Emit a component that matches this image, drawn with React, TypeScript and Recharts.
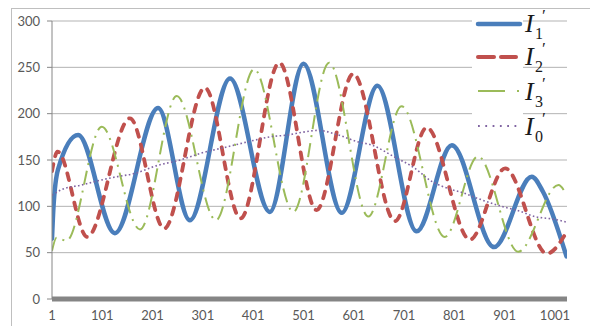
import React from 'react';
import { LineChart, Line, XAxis, YAxis, CartesianGrid } from 'recharts';

const xTicks = [1, 101, 201, 301, 401, 501, 601, 701, 801, 901, 1001];
const yTicks = [0, 50, 100, 150, 200, 250, 300];

const i1Index = [1, 4, 13, 53, 126, 212, 275, 355, 434, 501, 577, 648, 726, 796, 880, 955, 977, 1024];
const i1Value = [65, 100, 140, 177, 71, 206, 85, 238, 94, 254, 93, 230, 73, 166, 56, 132, 116, 46];

const i2Index = [1, 12, 71, 156, 224, 305, 376, 453, 527, 600, 683, 746, 832, 902, 985, 1024];
const i2Value = [138, 159, 67, 195, 76, 228, 87, 255, 96, 243, 84, 185, 64, 141, 49, 72];

const i3Index = [1, 10, 30, 100, 176, 249, 327, 403, 481, 552, 630, 696, 782, 848, 928, 1008, 1024];
const i3Value = [52, 66, 63, 186, 75, 219, 85, 248, 94, 255, 89, 208, 67, 154, 51, 123, 112];

const i0Index = [1, 20, 60, 96, 130, 162, 210, 256, 295, 348, 401, 434, 470, 500, 530, 570, 607, 637, 683, 720, 756, 790, 816, 850, 895, 930, 961, 1000, 1024];
const i0Value = [112, 118, 123, 128, 132, 135, 144, 150, 157, 164, 171, 175, 177, 180, 182, 177, 170, 166, 153, 142, 127, 119, 115, 108, 100, 95, 89, 86, 83];

const seriesNames = ['1', '2', '3', '0'];

const toData = (xs: number[], ys: number[]) => xs.map((x, i) => ({ x, y: ys[i] }));

const d1 = toData(i1Index, i1Value);
const d2 = toData(i2Index, i2Value);
const d3 = toData(i3Index, i3Value);
const d0 = toData(i0Index, i0Value);

const BLUE = '#4a7ebb';
const RED = '#c0504d';
const GREEN = '#9bbb59';
const PURPLE = '#8064a2';

const tickStyle = { fontFamily: 'Lato, "Open Sans", sans-serif', fontSize: 13, fill: '#595959' };

function LegendLabel({ y, sub }: { y: number; sub: string }) {
  return (
    <text fontFamily='"Liberation Serif", "DejaVu Serif", serif' fill="#1a1a1a">
      <tspan x={525} y={y} fontStyle="italic" fontSize={26}>I</tspan>
      <tspan x={535} y={y + 7} fontSize={16}>{sub}</tspan>
      <tspan x={541} y={y - 11} fontStyle="italic" fontSize={17}>′</tspan>
    </text>
  );
}

export default function App() {
  return (
    <div style={{ position: 'absolute', left: 0, top: 0, width: 590, height: 326, background: '#fff', overflow: 'hidden' }}>
      <div style={{ position: 'absolute', left: 11, top: 8, width: 700, height: 400, borderLeft: '1px solid #bfbfbf', borderTop: '1px solid #bfbfbf' }} />
      <div style={{ position: 'absolute', left: 0, top: 0 }}>
        <LineChart width={590} height={326} margin={{ top: 21, right: 23, left: 12, bottom: 7 }}>
          <CartesianGrid vertical={false} stroke="#b3b3b3" strokeWidth={1} />
          <XAxis
            type="number"
            dataKey="x"
            domain={[1, 1025]}
            ticks={xTicks}
            allowDataOverflow
            tickLine={false}
            tickSize={0}
            tickMargin={12}
            height={20}
            axisLine={{ stroke: '#858585', strokeWidth: 5 }}
            tick={tickStyle}
            interval={0}
          />
          <YAxis
            type="number"
            domain={[0, 300]}
            ticks={yTicks}
            width={40}
            tickSize={5}
            tickMargin={7}
            tickLine={{ stroke: '#868686' }}
            axisLine={{ stroke: '#868686' }}
            tick={tickStyle}
            interval={0}
          />
          <Line data={d1} dataKey="y" type="monotone" stroke={BLUE} strokeWidth={4.5} dot={false} isAnimationActive={false} strokeLinecap="round" />
          <Line data={d2} dataKey="y" type="monotone" stroke={RED} strokeWidth={3.8} strokeDasharray="7 8" strokeLinecap="round" dot={false} isAnimationActive={false} />
          <Line data={d3} dataKey="y" type="monotone" stroke={GREEN} strokeWidth={2} strokeDasharray="14 6 2 6" dot={false} isAnimationActive={false} />
          <Line data={d0} dataKey="y" type="monotone" stroke={PURPLE} strokeWidth={1.6} strokeDasharray="1.6 2.4" dot={false} isAnimationActive={false} />
        </LineChart>
      </div>
      <svg width={590} height={326} style={{ position: 'absolute', left: 0, top: 0, pointerEvents: 'none' }}>
        <rect x={472} y={9} width={51} height={131} fill="#fff" />
        <line x1={478} y1={24} x2={520} y2={24} stroke={BLUE} strokeWidth={4.5} strokeLinecap="round" />
        <line x1={478} y1={57} x2={494} y2={57} stroke={RED} strokeWidth={4} strokeLinecap="round" />
        <line x1={501} y1={57} x2={516} y2={57} stroke={RED} strokeWidth={4} strokeLinecap="round" />
        <line x1={478} y1={91} x2={505} y2={91} stroke={GREEN} strokeWidth={2} />
        <line x1={517} y1={91} x2={519} y2={91} stroke={GREEN} strokeWidth={2} />
        <line x1={478} y1={126} x2={517} y2={126} stroke={PURPLE} strokeWidth={1.8} strokeDasharray="1.8 5.5" />
        <LegendLabel y={32} sub={seriesNames[0]} />
        <LegendLabel y={65} sub={seriesNames[1]} />
        <LegendLabel y={100} sub={seriesNames[2]} />
        <LegendLabel y={135} sub={seriesNames[3]} />
      </svg>
    </div>
  );
}
